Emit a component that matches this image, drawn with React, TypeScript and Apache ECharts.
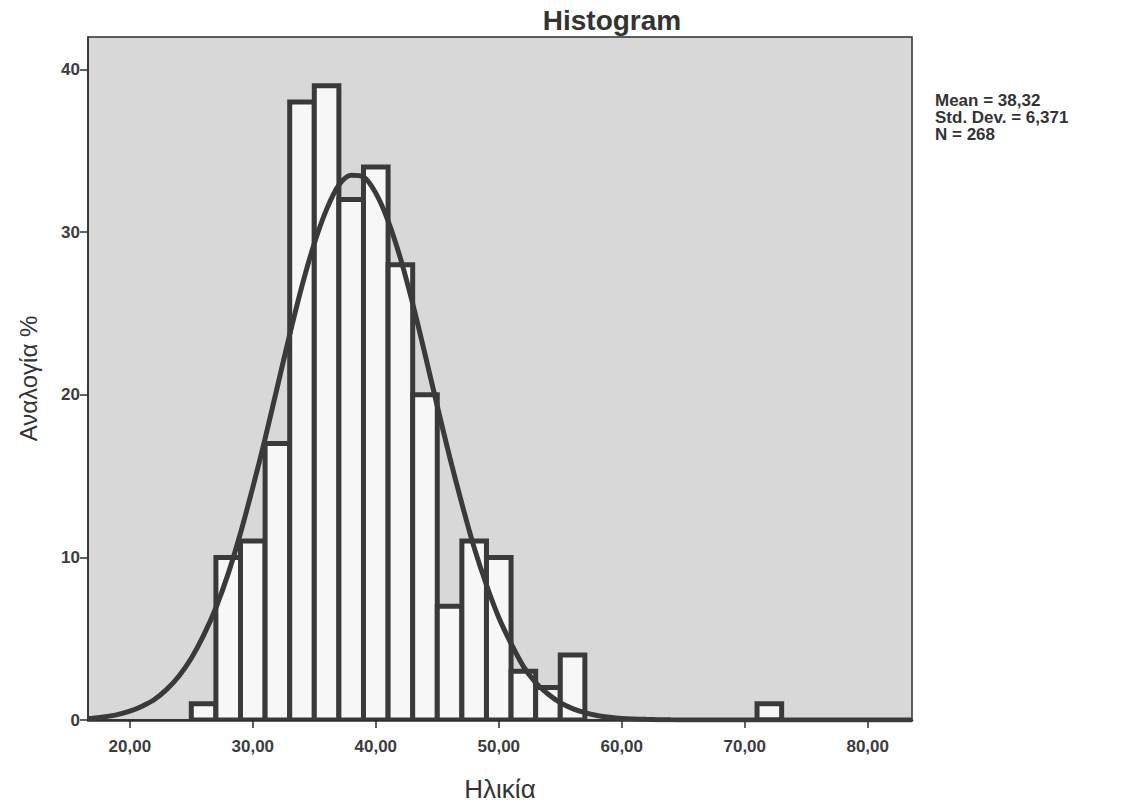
import React, { useEffect, useRef } from "react";
import * as echarts from "echarts";

// Histogram bins (age, years) and frequencies
const binLower = [25, 27, 29, 31, 33, 35, 37, 39, 41, 43, 45, 47, 49, 51, 53, 55, 71];
const binUpper = [27, 29, 31, 33, 35, 37, 39, 41, 43, 45, 47, 49, 51, 53, 55, 57, 73];
const counts = [1, 10, 11, 17, 38, 39, 32, 34, 28, 20, 7, 11, 10, 3, 2, 4, 1];

// Fitted normal curve
const curveX = [16.6, 17, 18, 19, 20, 21, 22, 23, 24, 25, 26, 27, 28, 29, 30, 31, 32, 33, 34, 35, 36, 37, 38, 39, 40, 41, 42, 43, 44, 45, 46, 47, 48, 49, 50, 51, 52, 53, 54, 55, 56, 57, 58, 59, 60, 62, 64, 66, 68, 70, 75, 80, 83.6];
const curveY = [0.09, 0.11, 0.2, 0.33, 0.54, 0.85, 1.26, 1.88, 2.71, 3.8, 5.2, 6.9, 9.0, 11.5, 14.3, 17.3, 20.5, 23.7, 26.7, 29.3, 31.4, 32.9, 33.5, 33.4, 32.4, 30.7, 28.4, 25.6, 22.5, 19.3, 16.2, 13.3, 10.6, 8.3, 6.3, 4.7, 3.3, 2.3, 1.6, 1.07, 0.7, 0.45, 0.28, 0.17, 0.1, 0.04, 0.01, 0, 0, 0, 0, 0, 0];

const xTicks = [20, 30, 40, 50, 60, 70, 80];
const yTicks = [0, 10, 20, 30, 40];

const titleText = "Histogram";
const xName = "Ηλικία";
const yName = "Αναλογία %";
const statLabels = ["Mean", "Std. Dev.", "N"];
const statValues = ["38,32", "6,371", "268"];

const FONT = "'Liberation Sans', Arial, sans-serif";
const INK = "#3a3a3a";

export default function App() {
  const ref = useRef<HTMLDivElement>(null);

  useEffect(() => {
    if (!ref.current) return;
    const chart = echarts.init(ref.current, undefined, { renderer: "svg" });

    const histData = binLower.map((lo, i) => [lo, binUpper[i], counts[i]]);
    const curveData = curveX.map((x, i) => [x, curveY[i]]);
    const fmt = (v: number) => v.toFixed(2).replace(".", ",");

    chart.setOption({
      animation: false,
      backgroundColor: "#ffffff",
      textStyle: { fontFamily: FONT },
      grid: {
        left: 88,
        top: 37,
        width: 824,
        height: 683,
        show: true,
        backgroundColor: "#d8d8d8",
        borderColor: "#2e2e2e",
        borderWidth: 1.5,
      },
      xAxis: {
        type: "value",
        min: 16.6,
        max: 83.6,
        name: xName,
        nameLocation: "middle",
        nameGap: 56,
        nameTextStyle: { fontSize: 26, color: "#333", fontFamily: FONT },
        axisLine: { show: true, lineStyle: { color: "#2e2e2e", width: 2.5 } },
        axisTick: { show: true, customValues: xTicks, length: 8, lineStyle: { color: "#2e2e2e", width: 1.5 } },
        axisLabel: {
          customValues: xTicks,
          formatter: (v: number) => fmt(v),
          fontSize: 17,
          fontWeight: "bold",
          color: "#3c3c3c",
          margin: 18,
          fontFamily: FONT,
        },
        splitLine: { show: false },
      },
      yAxis: {
        type: "value",
        min: 0,
        max: 42,
        name: yName,
        nameLocation: "middle",
        nameGap: 48,
        nameTextStyle: { fontSize: 24, color: "#333", fontFamily: FONT },
        axisLine: { show: true, lineStyle: { color: "#2e2e2e", width: 1.5 } },
        axisTick: { show: true, customValues: yTicks, length: 8, lineStyle: { color: "#2e2e2e", width: 1.5 } },
        axisLabel: {
          customValues: yTicks,
          fontSize: 17,
          fontWeight: "bold",
          color: "#3c3c3c",
          margin: 8,
          fontFamily: FONT,
        },
        splitLine: { show: false },
      },
      series: [
        {
          type: "custom",
          name: "Frequency",
          clip: true,
          z: 2,
          encode: { x: [0, 1], y: 2 },
          data: histData,
          renderItem: (params: any, api: any) => {
            const lo = api.value(0);
            const hi = api.value(1);
            const c = api.value(2);
            const p0 = api.coord([lo, 0]);
            const p1 = api.coord([hi, c]);
            return {
              type: "rect",
              shape: { x: p0[0], y: p1[1], width: p1[0] - p0[0], height: p0[1] - p1[1] },
              style: { fill: "#f7f7f7", stroke: INK, lineWidth: 5 },
            };
          },
        },
        {
          type: "line",
          name: "Normal",
          data: curveData,
          smooth: 0.3,
          symbol: "none",
          clip: true,
          z: 3,
          lineStyle: { color: INK, width: 5 },
        },
      ],
      graphic: [
        {
          type: "text",
          x: 612,
          y: 20,
          style: {
            text: titleText,
            font: `bold 28px ${FONT}`,
            fill: "#333",
            align: "center",
            verticalAlign: "middle",
          },
        },
        {
          type: "text",
          x: 935,
          y: 92,
          style: {
            text: statLabels.map((l, i) => `${l} = ${statValues[i]}`).join("\n"),
            font: `bold 17px ${FONT}`,
            lineHeight: 17,
            fill: "#333",
            align: "left",
            verticalAlign: "top",
          },
        },
      ],
    });

    return () => chart.dispose();
  }, []);

  return (
    <div
      ref={ref}
      style={{ position: "fixed", left: 0, top: 0, width: 1121, height: 807, background: "#fff" }}
    />
  );
}
